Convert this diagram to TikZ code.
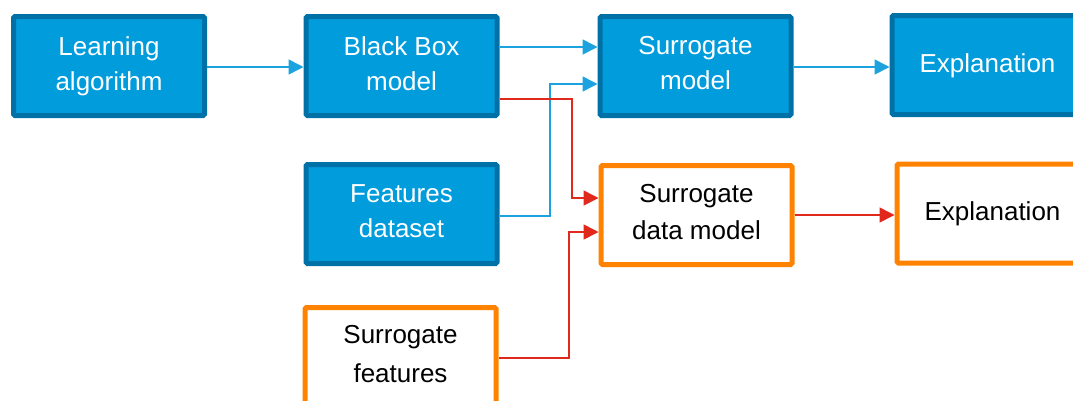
\documentclass[tikz,border=0pt]{standalone}
\usepackage{fontspec}
\setmainfont{Liberation Sans}
\usetikzlibrary{arrows.meta,calc}
\definecolor{boxblue}{HTML}{009CDC}
\definecolor{edgeblue}{HTML}{0071A6}
\definecolor{lineblue}{HTML}{1CA3DF}
\definecolor{linered}{HTML}{E0281D}
\definecolor{boxorange}{HTML}{FF8300}
% fixed line box so text sits the same way in every card
\newcommand\cardstrut{\rule[-5.5pt]{0pt}{25pt}}
\tikzset{
  card/.style={rectangle, rounded corners=1.5pt, line width=5pt,
    minimum width=191pt, minimum height=99pt, inner sep=0pt, align=center,
    font=\fontsize{26}{35}\selectfont,
    execute at begin node=\cardstrut, execute at end node=\cardstrut},
  bluecard/.style={card, draw=edgeblue, fill=boxblue, text=white},
  orangecard/.style={card, draw=boxorange, fill=white, text=black},
  bluelink/.style={draw=lineblue, line width=1.6pt,
    -{Triangle[length=15pt,width=15pt]}},
  redlink/.style={draw=linered, line width=1.6pt,
    -{Triangle[length=15pt,width=15pt]}}
}
\begin{document}
\begin{tikzpicture}[x=1pt,y=-1pt]
\useasboundingbox (0,0) rectangle (1073,400);
% top row
\node[bluecard] (learn) at (109,66) {Learning\\algorithm};
\node[bluecard] (bb) at (401.5,66) {Black Box\\model};
\node[bluecard] (sm) at (695.5,66) {Surrogate\\model};
\node[bluecard] (exp1) at (987.5,65) {Explanation};
% middle row
\node[bluecard] (fd) at (401.5,214) {Features\\dataset};
\node[orangecard, font=\fontsize{26}{37}\selectfont] (sdm) at (696.5,215) {Surrogate\\data model};
\node[orangecard] (exp2) at (992.5,213.5) {Explanation};
% bottom row
\node[orangecard, font=\fontsize{26}{39}\selectfont] (sf) at (400.5,357) {Surrogate\\features};
% waypoints
\coordinate (b1) at (550,216);
\coordinate (b2) at (550,84);
\coordinate (r1) at (572,99);
\coordinate (r2) at (572,198);
\coordinate (s1) at (569,358);
\coordinate (s2) at (569,232);
% blue connectors
\draw[bluelink] (learn.east |- 0,67) -- (bb.west |- 0,67);
\draw[bluelink] (bb.east |- 0,47) -- (sm.west |- 0,47);
\draw[bluelink] (fd.east |- b1) -- (b1) -- (b2) -- (sm.west |- b2);
\draw[bluelink] (sm.east |- 0,67) -- (exp1.west |- 0,67);
% red connectors
\draw[redlink] (bb.east |- r1) -- (r1) -- (r2) -- (sdm.west |- r2);
\draw[redlink] (sf.east |- s1) -- (s1) -- (s2) -- (sdm.west |- s2);
\draw[redlink] (sdm.east |- 0,215) -- (exp2.west |- 0,215);
\end{tikzpicture}
\end{document}
